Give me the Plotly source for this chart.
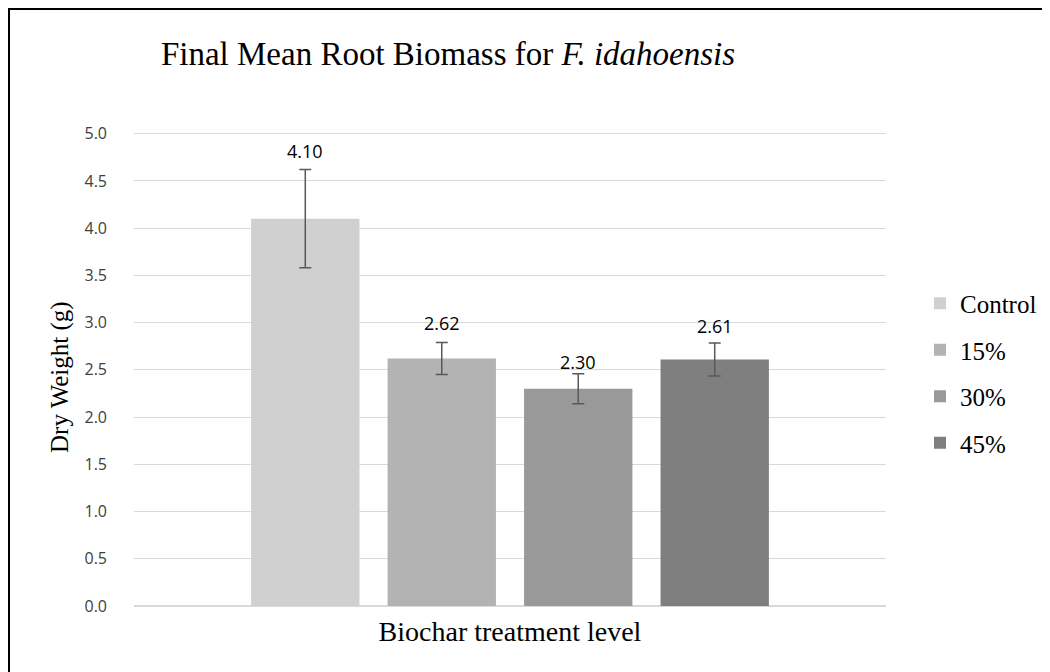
import plotly.graph_objects as go

TITLE = "Final Mean Root Biomass for <i>F. idahoensis</i>"
X_TITLE = "Biochar treatment level"
Y_TITLE = "Dry Weight (g)"

treatments = ["Control", "15%", "30%", "45%"]
mean_weight = [4.10, 2.62, 2.30, 2.61]
error = [0.52, 0.17, 0.16, 0.175]
label_text = ["4.10", "2.62", "2.30", "2.61"]

BAR_COLORS = ["#d0d0d0", "#b3b3b3", "#999999", "#7f7f7f"]
ERR_COLOR = "#595959"
GRID_COLOR = "#d9d9d9"
SERIF = "Liberation Serif"
SANS = "Open Sans"

# extra lift of each value label above its error bar, in px
LABEL_LIFT = [11, 11, 4, 9]

# plot box in pixels (page adds an 8px body margin)
L, R, T, B = 126, 172, 121, 74
W, H = 1050, 672
pw = W - L - R
ph = H - T - B


def px_x(px):
    return (px - L) / pw


def px_y(px):
    return (H - B - px) / ph


fig = go.Figure()
for i, name in enumerate(treatments):
    fig.add_trace(go.Bar(
        x=[i], y=[mean_weight[i]], name=name,
        width=0.794,
        marker=dict(color=BAR_COLORS[i], line=dict(width=0)),
        error_y=dict(type="data", array=[error[i]], visible=True,
                     color=ERR_COLOR, thickness=1.5, width=6),
        legendgroup=name,
        hoverinfo="skip",
    ))
    fig.add_annotation(
        x=i, y=mean_weight[i] + error[i], text=label_text[i],
        showarrow=False, yanchor="bottom", yshift=LABEL_LIFT[i] - 6,
        font=dict(family=SANS, size=18, color="#000000"),
    )

# y axis title placed by hand
fig.add_annotation(
    x=px_x(52), y=px_y(369), xref="paper", yref="paper",
    text=Y_TITLE, textangle=-90, showarrow=False,
    xanchor="center", yanchor="middle",
    font=dict(family=SERIF, size=25, color="#000000"),
)

# frame round the whole chart (left and top edges visible)
fig.add_shape(
    type="rect", xref="paper", yref="paper",
    x0=px_x(1), x1=px_x(W + 20), y0=px_y(H + 20), y1=px_y(1),
    line=dict(color="#000000", width=2), fillcolor="rgba(0,0,0,0)",
    layer="above",
)

fig.update_layout(
    width=W, height=H,
    margin=dict(l=L, r=R, t=T, b=B, autoexpand=False),
    paper_bgcolor="white", plot_bgcolor="white",
    barmode="overlay",
    showlegend=True,
    title=dict(text=TITLE, x=440 / W, xref="container", xanchor="center",
               y=1 - 45 / H, yref="container", yanchor="middle",
               font=dict(family=SERIF, size=33, color="#000000")),
    legend=dict(x=px_x(912), xanchor="left", y=px_y(365),
                yanchor="middle", font=dict(family=SERIF, size=25, color="#000000"),
                tracegroupgap=11, itemclick=False, bgcolor="rgba(0,0,0,0)"),
    xaxis=dict(range=[-1.255, 4.255], showticklabels=False, showgrid=False,
               zeroline=False, showline=False, ticks="",
               title=dict(text=X_TITLE, standoff=15,
                          font=dict(family=SERIF, size=28, color="#000000"))),
    yaxis=dict(range=[0, 5.05], tickvals=[0, 0.5, 1, 1.5, 2, 2.5, 3, 3.5, 4, 4.5, 5],
               tickformat=".1f",
               showgrid=True, gridcolor=GRID_COLOR, gridwidth=1,
               zeroline=True, zerolinecolor=GRID_COLOR, zerolinewidth=2,
               showline=False, ticks="", ticklabelstandoff=26,
               tickfont=dict(family=SANS, size=16, color="#404040")),
)

fig.write_html("out.html")
